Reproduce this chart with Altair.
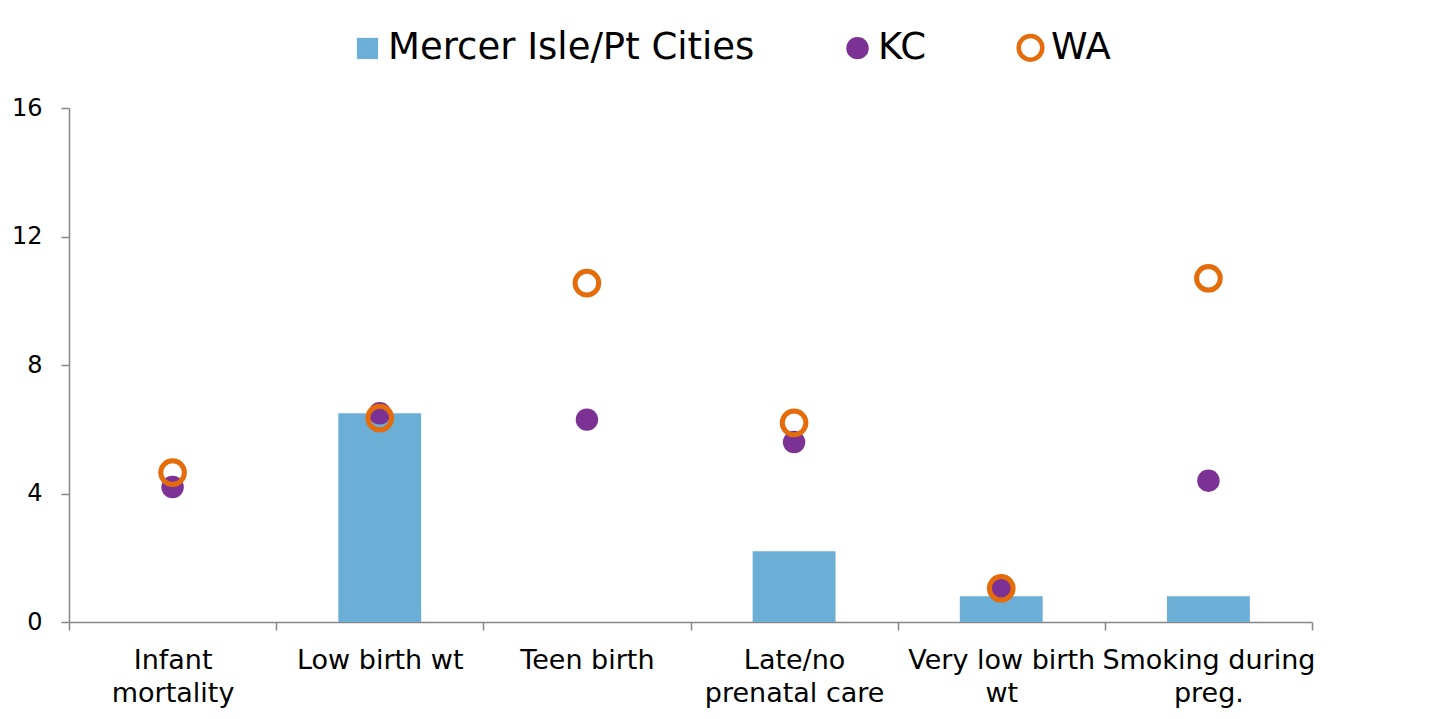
import altair as alt
import pandas as pd

categories = [
    "Infant\nmortality",
    "Low birth wt",
    "Teen birth",
    "Late/no\nprenatal care",
    "Very low birth\nwt",
    "Smoking during\npreg.",
]
series_names = ["Mercer Isle/Pt Cities", "KC", "WA"]
mercer = [None, 6.5, None, 2.2, 0.8, 0.8]
kc = [4.2, 6.5, 6.3, 5.6, 1.0, 4.4]
wa = [4.65, 6.35, 10.55, 6.2, 1.05, 10.7]
y_ticks = [0, 4, 8, 12, 16]

colors_fill = ["#6BAED6", "#7B3294", "transparent"]
colors_stroke = ["transparent", "transparent", "#E46C0A"]
shapes = ["square", "circle", "circle"]
sizes = [450, 560, 491]

rows = []
for k, (name, vals) in enumerate(zip(series_names, [mercer, kc, wa])):
    for c, v in zip(categories, vals):
        if v is not None:
            rows.append({"category": c, "series": name, "value": v, "ord": k})
df = pd.DataFrame(rows)

FONT = "DejaVu Sans"

x_enc = alt.X(
    "category:N",
    sort=categories,
    scale=alt.Scale(domain=categories, paddingInner=0, paddingOuter=0),
    axis=alt.Axis(
        title=None,
        labelAngle=0,
        tickBand="extent",
        labelExpr="isValid(datum.value) ? split(datum.value, '\\n') : ''",
        labelFontSize=27,
        labelLineHeight=33,
        labelPadding=17,
        labelLimit=1000,
        tickSize=8,
    ),
)
y_enc = alt.Y(
    "value:Q",
    scale=alt.Scale(domain=[0, 16], nice=False),
    axis=alt.Axis(
        title=None,
        values=y_ticks,
        grid=False,
        labelFontSize=24,
        labelPadding=19,
        tickSize=8,
    ),
)

legend = alt.Legend(
    orient="none",
    legendX=280,
    legendY=-79,
    direction="horizontal",
    title=None,
    labelFont=FONT,
    labelFontSize=37,
    labelColor="black",
    symbolSize=500,
    symbolStrokeWidth=4.5,
    columnPadding=82,
    labelOffset=2,
    padding=0,
    labelLimit=1000,
)

fill_scale = alt.Scale(domain=series_names, range=colors_fill)
stroke_scale = alt.Scale(domain=series_names, range=colors_stroke)
shape_scale = alt.Scale(domain=series_names, range=shapes)
size_scale = alt.Scale(domain=series_names, range=sizes)

base = alt.Chart(df)

bars = base.transform_filter(
    alt.datum.series == series_names[0]
).mark_bar(width=alt.RelativeBandSize(0.4)).encode(
    x=x_enc,
    y=y_enc,
    fill=alt.Fill("series:N", scale=fill_scale, legend=legend),
)

points = base.transform_filter(
    alt.datum.series != series_names[0]
).mark_point(strokeWidth=5, opacity=1).encode(
    x=x_enc,
    y=y_enc,
    fill=alt.Fill("series:N", scale=fill_scale, legend=legend),
    stroke=alt.Stroke("series:N", scale=stroke_scale, legend=legend),
    shape=alt.Shape("series:N", scale=shape_scale, legend=legend),
    size=alt.Size("series:N", scale=size_scale, legend=None),
    order=alt.Order("ord:Q"),
)

chart = alt.layer(bars, points).properties(
    width=1243,
    height=514,
    autosize=alt.AutoSizeParams(type="none"),
    padding={"left": 61, "top": 100, "right": 120, "bottom": 97},
).configure_view(
    stroke=None
).configure_axis(
    labelFont=FONT,
    labelColor="black",
    domainColor="#868686",
    tickColor="#868686",
    domainWidth=1.5,
    tickWidth=1.5,
)

chart.save("out.html", embed_options={"renderer": "svg", "actions": False})
